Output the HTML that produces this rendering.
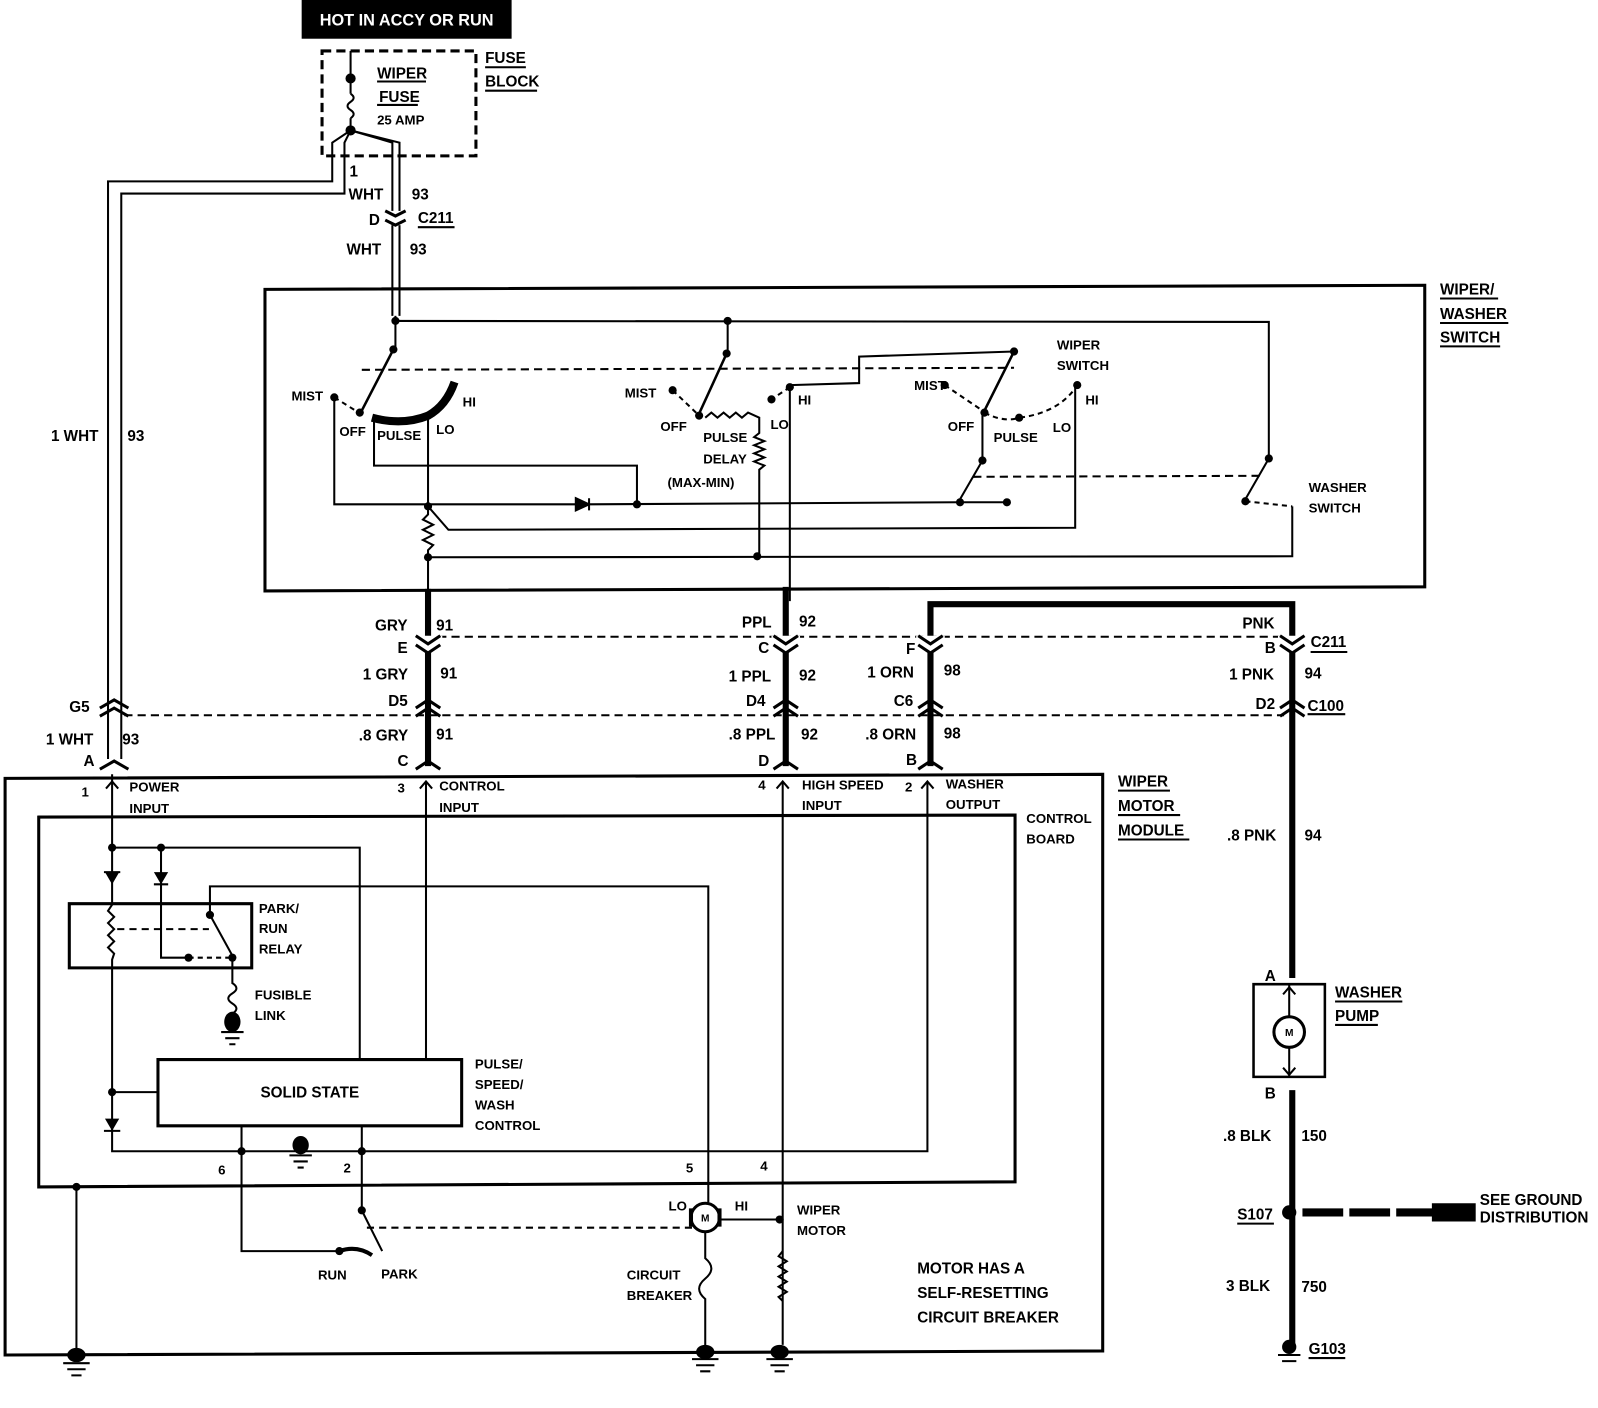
<!DOCTYPE html>
<html><head><meta charset="utf-8"><style>
html,body{margin:0;padding:0;background:#fff;}
svg{display:block;}
text{font-family:"Liberation Sans Narrow","Liberation Sans",sans-serif;font-weight:bold;font-size:15px;fill:#000;}
.s{font-size:13px;}
</style></head><body>
<svg width="1598" height="1408" viewBox="0 0 1568 1382" preserveAspectRatio="none" xmlns="http://www.w3.org/2000/svg" fill="none" stroke="#000" stroke-width="2">
<!-- Header -->
<rect x="296" y="0" width="206" height="38" fill="#000" stroke="none"/>
<text x="399" y="25" text-anchor="middle" style="fill:#fff;font-size:16px" stroke="none">HOT IN ACCY OR RUN</text>
<!-- fuse block -->
<rect x="316" y="50" width="151" height="103" stroke-width="3" stroke-dasharray="9,5"/>
<line x1="344" y1="50" x2="344" y2="92"/>
<path d="M344 92 q6 4 0 8 q-6 4 0 8 q6 4 0 8" />
<line x1="344" y1="116" x2="344" y2="128"/>
<circle cx="344" cy="77" r="4" fill="#000"/><circle cx="344" cy="128" r="4" fill="#000"/>
<g stroke="none">
<text x="370" y="77">WIPER</text><text x="372" y="100">FUSE</text><text x="370" y="122" class="s">25 AMP</text>
<text x="476" y="62">FUSE</text><text x="476" y="85">BLOCK</text>
</g>
<line x1="370" y1="80" x2="418" y2="80"/><line x1="370" y1="103" x2="410" y2="103"/>
<line x1="476" y1="66" x2="516" y2="66"/><line x1="476" y1="89" x2="527" y2="89"/>
<!-- fuse outputs -->
<path d="M344 128 L326 140 L326 178 L106 178 L106 745"/>
<path d="M344 128 L338 140 L338 190 L119 190 L119 745"/>
<path d="M344 128 L385 140 L385 310"/>
<path d="M344 128 L392 140 L392 310"/>
<g stroke="none">
<text x="343" y="173">1</text><text x="342" y="196">WHT</text><text x="404" y="196">93</text>
<text x="362" y="221">D</text><text x="410" y="219">C211</text>
<text x="340" y="250">WHT</text><text x="402" y="250">93</text>
<text x="50" y="433">1 WHT</text><text x="125" y="433">93</text>
</g>
<line x1="410" y1="223" x2="446" y2="223"/>
<rect x="376" y="207" width="24" height="14" fill="#fff" stroke="none"/>
<path d="M378 207 l10 5 l10 -5 M378 216 l10 5 l10 -5" stroke-width="3" />
<!-- switch box -->
<path d="M260 284 L1398 280 L1398 576 L260 580 Z" stroke-width="3"/>
<g stroke="none">
<text x="1413" y="289">WIPER/</text><text x="1413" y="313">WASHER</text><text x="1413" y="336">SWITCH</text>
</g>
<line x1="1413" y1="293" x2="1470" y2="293"/><line x1="1413" y1="317" x2="1480" y2="317"/><line x1="1413" y1="340" x2="1472" y2="340"/>
<!-- switch internals -->
<line x1="388" y1="310" x2="388" y2="343"/>
<path d="M388 315 L1245 316 L1245 450"/>
<line x1="714" y1="315" x2="714" y2="345"/>
<g fill="#000" stroke="none">
<circle cx="388" cy="315" r="4"/><circle cx="714" cy="315" r="4"/>
<circle cx="386" cy="343" r="4"/><circle cx="713" cy="347" r="4"/>
<circle cx="328" cy="390" r="4"/><circle cx="353" cy="405" r="4"/><circle cx="420" cy="408" r="4"/>
<circle cx="660" cy="383" r="4"/><circle cx="686" cy="408" r="4"/><circle cx="757" cy="392" r="4"/><circle cx="775" cy="380" r="4"/>
<circle cx="995" cy="345" r="4"/><circle cx="927" cy="378" r="4"/><circle cx="966" cy="405" r="4"/><circle cx="1000" cy="410" r="4"/><circle cx="1057" cy="378" r="4"/>
<circle cx="964" cy="452" r="4"/><circle cx="988" cy="493" r="4"/><circle cx="942" cy="493" r="4"/>
<circle cx="1245" cy="450" r="4"/><circle cx="1222" cy="492" r="4"/>
<circle cx="420" cy="497" r="4"/><circle cx="625" cy="495" r="4"/><circle cx="420" cy="547" r="4"/><circle cx="743" cy="546" r="4"/>
</g>
<path d="M386 343 L355 403" stroke-width="2.5"/><path d="M713 347 L686 406" stroke-width="2.5"/><path d="M995 345 L966 403" stroke-width="2.5"/>
<line x1="355" y1="363" x2="995" y2="361" stroke-dasharray="8,5"/>
<path d="M328 390 L352 405 M660 383 L684 406 M927 378 L964 403 M775 380 L757 392 M1222 492 L1268 497" stroke-dasharray="5,4"/>
<path d="M365 410 Q395 418 420 408 Q438 398 446 375" stroke-width="8"/>
<path d="M966 405 Q985 415 1000 410 Q1040 405 1057 378" stroke-dasharray="5,4"/>
<path d="M328 390 L328 495 L565 495"/>
<path d="M565 489 L578 495 L565 501 Z M578 489 L578 501" fill="#000"/>
<path d="M578 495 L940 493"/>
<path d="M367 410 L367 457 L625 457 L625 495"/>
<path d="M420 408 L420 505 l-5 5 l10 5 l-10 5 l10 5 l-10 5 l10 5 l-5 5 L420 590"/>
<path d="M420 497 L440 520 L1055 518 L1055 378"/>
<path d="M420 547 L1268 546 L1268 497"/>
<path d="M692 410 l6 -5 l6 5 l6 -5 l6 5 l6 -5 l6 5 l6 -5 L745 410 L745 425 l-5 4 l10 4 l-10 4 l10 4 l-10 4 l10 4 l-10 4 l10 4 l-5 4 L745 546"/>
<path d="M775 380 L775 590 M775 378 L843 376 L843 350 L995 345"/>
<path d="M964 405 L964 452 L942 490 M942 493 L988 493" />
<line x1="955" y1="468" x2="1240" y2="467" stroke-dasharray="8,5"/>
<path d="M1245 450 L1222 490"/>
<g stroke="none">
<text x="286" y="393" class="s">MIST</text><text x="454" y="399" class="s">HI</text><text x="333" y="428" class="s">OFF</text><text x="370" y="432" class="s">PULSE</text><text x="428" y="426" class="s">LO</text>
<text x="613" y="390" class="s">MIST</text><text x="648" y="423" class="s">OFF</text><text x="756" y="421" class="s">LO</text><text x="783" y="397" class="s">HI</text>
<text x="690" y="434" class="s">PULSE</text><text x="690" y="455" class="s">DELAY</text><text x="655" y="478" class="s">(MAX-MIN)</text>
<text x="897" y="383" class="s">MIST</text><text x="930" y="423" class="s">OFF</text><text x="975" y="434" class="s">PULSE</text><text x="1033" y="424" class="s">LO</text><text x="1065" y="397" class="s">HI</text>
<text x="1037" y="343" class="s">WIPER</text><text x="1037" y="363" class="s">SWITCH</text>
<text x="1284" y="483" class="s">WASHER</text><text x="1284" y="503" class="s">SWITCH</text>
</g>
<!-- harness wires -->
<path d="M420 578 L420 752" stroke-width="6"/>
<path d="M771 576 L771 752" stroke-width="6"/>
<path d="M913 752 L913 593 L1268 593 L1268 960" stroke-width="6"/>
<path d="M1268 1070 L1268 1325" stroke-width="6"/>
<line x1="430" y1="625" x2="1260" y2="625" stroke-dasharray="8,5"/>
<line x1="122" y1="702" x2="1260" y2="702" stroke-dasharray="8,5"/>
<!-- connectors -->
<g fill="#fff" stroke="none">
<rect x="406" y="624" width="28" height="16"/><rect x="757" y="624" width="28" height="16"/><rect x="899" y="624" width="28" height="16"/><rect x="1254" y="624" width="28" height="16"/>
</g>
<g stroke-width="3" fill="none">
<path d="M408 624 l12 8 l12 -8 M408 633 l12 8 l12 -8"/>
<path d="M759 624 l12 8 l12 -8 M759 633 l12 8 l12 -8"/>
<path d="M901 624 l12 8 l12 -8 M901 633 l12 8 l12 -8"/>
<path d="M1256 624 l12 8 l12 -8 M1256 633 l12 8 l12 -8"/>
<path d="M408 695 l12 -8 l12 8 M408 703 l12 -8 l12 8"/>
<path d="M759 695 l12 -8 l12 8 M759 703 l12 -8 l12 8"/>
<path d="M901 695 l12 -8 l12 8 M901 703 l12 -8 l12 8"/>
<path d="M1256 695 l12 -8 l12 8 M1256 703 l12 -8 l12 8"/>
<path d="M98 695 l14 -8 l14 8 M98 703 l14 -8 l14 8"/>
<path d="M98 755 l14 -8 l14 8 M408 755 l12 -8 l12 8 M759 755 l12 -8 l12 8 M901 755 l12 -8 l12 8"/>
</g>
<g stroke="none">
<text x="368" y="619">GRY</text><text x="428" y="619">91</text>
<text x="390" y="641">E</text><text x="356" y="667">1 GRY</text><text x="432" y="666">91</text>
<text x="381" y="693">D5</text><text x="352" y="727">.8 GRY</text><text x="428" y="726">91</text><text x="390" y="752">C</text>
<text x="728" y="616">PPL</text><text x="784" y="615">92</text>
<text x="744" y="641">C</text><text x="715" y="669">1 PPL</text><text x="784" y="668">92</text>
<text x="732" y="693">D4</text><text x="715" y="726">.8 PPL</text><text x="786" y="726">92</text><text x="744" y="752">D</text>
<text x="889" y="642">F</text><text x="851" y="665">1 ORN</text><text x="926" y="663">98</text>
<text x="877" y="693">C6</text><text x="849" y="726">.8 ORN</text><text x="926" y="725">98</text><text x="889" y="751">B</text>
<text x="1219" y="617">PNK</text><text x="1241" y="641">B</text><text x="1286" y="635">C211</text>
<text x="1206" y="667">1 PNK</text><text x="1280" y="666">94</text>
<text x="1232" y="696">D2</text><text x="1283" y="698">C100</text>
<text x="68" y="699">G5</text><text x="45" y="731">1 WHT</text><text x="120" y="731">93</text><text x="82" y="752">A</text>
<text x="1204" y="825">.8 PNK</text><text x="1280" y="825">94</text>
</g>
<line x1="1286" y1="640" x2="1322" y2="640"/><line x1="1283" y1="701" x2="1320" y2="701"/>
<!-- motor module -->
<path d="M5 764 L1082 760 L1082 1326 L5 1330 Z" stroke-width="3"/>
<path d="M38 802 L996 800 L996 1160 L38 1165 Z" stroke-width="3"/>
<g stroke="none">
<text x="1097" y="772">WIPER</text><text x="1097" y="796">MOTOR</text><text x="1097" y="820">MODULE</text>
<text x="1007" y="808" class="s">CONTROL</text><text x="1007" y="828" class="s">BOARD</text>
<text x="80" y="782" class="s">1</text><text x="127" y="777" class="s">POWER</text><text x="127" y="798" class="s">INPUT</text>
<text x="390" y="778" class="s">3</text><text x="431" y="776" class="s">CONTROL</text><text x="431" y="797" class="s">INPUT</text>
<text x="744" y="775" class="s">4</text><text x="787" y="775" class="s">HIGH SPEED</text><text x="787" y="795" class="s">INPUT</text>
<text x="888" y="777" class="s">2</text><text x="928" y="774" class="s">WASHER</text><text x="928" y="794" class="s">OUTPUT</text>
</g>
<line x1="1097" y1="776" x2="1148" y2="776"/><line x1="1097" y1="800" x2="1158" y2="800"/><line x1="1097" y1="824" x2="1167" y2="824"/>
<path d="M104 774 l6 -7 l6 7 M412 774 l6 -7 l6 7 M762 774 l6 -7 l6 7 M904 774 l6 -7 l6 7" />
<path d="M110 760 L110 888 l-4 6 l6 6 l-6 6 l6 6 l-6 6 l6 6 l-6 6 l6 6 l-2 6 L110 1130 L910 1130 L910 768"/>
<path d="M110 832 L353 832 L353 1040 M158 832 L158 940 L185 940"/>
<path d="M418 768 L418 1040 M768 768 L768 1320"/>
<g fill="#000" stroke="none">
<circle cx="110" cy="832" r="4"/><circle cx="158" cy="832" r="4"/>
<path d="M103 856 L117 856 L110 868 Z M158 868 L151 856 L165 856 Z M103 1098 L117 1098 L110 1110 Z"/>
<circle cx="206" cy="898" r="4"/><circle cx="185" cy="940" r="4"/><circle cx="228" cy="940" r="4"/>
<circle cx="110" cy="1072" r="4"/><circle cx="237" cy="1130" r="4"/><circle cx="355" cy="1130" r="4"/>
<circle cx="75" cy="1165" r="4"/><circle cx="355" cy="1188" r="4"/><circle cx="333" cy="1228" r="4"/>
<circle cx="765" cy="1197" r="4"/>
<ellipse cx="228" cy="1003" rx="8" ry="10"/><ellipse cx="295" cy="1124" rx="8" ry="9"/>
<ellipse cx="75" cy="1330" rx="9" ry="7"/><ellipse cx="692" cy="1327" rx="9" ry="7"/><ellipse cx="765" cy="1327" rx="9" ry="7"/><ellipse cx="1265" cy="1322" rx="7" ry="7"/>
<circle cx="1265" cy="1190" r="7"/>
</g>
<path d="M102 856 h16 M151 868 h14 M102 1110 h16" />
<path d="M68 887 L247 887 L247 950 L68 950 Z" stroke-width="3"/>
<line x1="115" y1="912" x2="205" y2="912" stroke-dasharray="7,5"/>
<path d="M206 898 L206 870 L695 870 L695 1180"/>
<path d="M206 898 L228 938"/>
<path d="M185 940 L228 940" stroke-dasharray="5,4"/>
<path d="M228 940 L228 965 q8 5 0 10 q-8 5 0 10 q8 5 0 10"/>
<path d="M217 1013 h22 M221 1019 h14 M225 1025 h6 M284 1134 h22 M288 1140 h14 M292 1146 h6"/>
<path d="M155 1040 L453 1040 L453 1105 L155 1105 Z" stroke-width="3"/>
<text x="304" y="1077" text-anchor="middle" stroke="none">SOLID STATE</text>
<path d="M110 1072 L155 1072 M237 1105 L237 1228 L330 1228 M355 1105 L355 1188 L375 1228"/>
<path d="M333 1228 Q350 1222 365 1232"  stroke-width="4"/>
<line x1="360" y1="1205" x2="680" y2="1205" stroke-dasharray="7,5"/>
<path d="M75 1165 L75 1325"/>
<circle cx="692" cy="1195" r="14" stroke-width="3"/>
<text x="692" y="1199" text-anchor="middle" style="font-size:10px" stroke="none">M</text>
<path d="M678 1186 v18 M706 1186 v18" stroke-width="4"/>
<path d="M706 1197 L768 1197 M692 1209 L692 1235 q12 10 0 20 q-12 10 0 20 L692 1322"/>
<path d="M768 1228 l-4 5 l8 5 l-8 5 l8 5 l-8 5 l8 5 l-8 5 l8 5 l-8 5 l4 4"/>
<path d="M62 1338 h26 M66 1344 h18 M70 1350 h10 M679 1334 h26 M683 1340 h18 M687 1346 h10 M752 1334 h26 M756 1340 h18 M760 1346 h10 M1254 1330 h22 M1258 1336 h14"/>
<g stroke="none">
<text x="254" y="896" class="s">PARK/</text><text x="254" y="916" class="s">RUN</text><text x="254" y="936" class="s">RELAY</text>
<text x="250" y="981" class="s">FUSIBLE</text><text x="250" y="1001" class="s">LINK</text>
<text x="466" y="1049" class="s">PULSE/</text><text x="466" y="1069" class="s">SPEED/</text><text x="466" y="1089" class="s">WASH</text><text x="466" y="1109" class="s">CONTROL</text>
<text x="214" y="1153" class="s">6</text><text x="337" y="1151" class="s">2</text><text x="673" y="1151" class="s">5</text><text x="746" y="1149" class="s">4</text>
<text x="312" y="1256" class="s">RUN</text><text x="374" y="1255" class="s">PARK</text>
<text x="656" y="1188" class="s">LO</text><text x="721" y="1188" class="s">HI</text>
<text x="782" y="1192" class="s">WIPER</text><text x="782" y="1212" class="s">MOTOR</text>
<text x="615" y="1256" class="s">CIRCUIT</text><text x="615" y="1276" class="s">BREAKER</text>
<text x="900" y="1250">MOTOR HAS A</text><text x="900" y="1274">SELF-RESETTING</text><text x="900" y="1298">CIRCUIT BREAKER</text>
</g>
<!-- washer pump -->
<path d="M1230 966 L1300 966 L1300 1057 L1230 1057 Z" stroke-width="2.5"/>
<line x1="1265" y1="966" x2="1265" y2="1057"/>
<circle cx="1265" cy="1013" r="15" fill="#fff" stroke-width="3"/>
<text x="1265" y="1017" text-anchor="middle" style="font-size:10px" stroke="none">M</text>
<path d="M1259 976 l6 -7 l6 7 M1259 1048 l6 7 l6 -7"/>
<g stroke="none">
<text x="1241" y="963">A</text><text x="1241" y="1078">B</text>
<text x="1310" y="979">WASHER</text><text x="1310" y="1002">PUMP</text>
<text x="1200" y="1120">.8 BLK</text><text x="1277" y="1120">150</text>
<text x="1214" y="1197">S107</text><text x="1203" y="1267">3 BLK</text><text x="1277" y="1268">750</text>
<text x="1284" y="1329">G103</text>
<text x="1452" y="1183">SEE GROUND</text><text x="1452" y="1200">DISTRIBUTION</text>
</g>
<line x1="1310" y1="983" x2="1376" y2="983"/><line x1="1310" y1="1006" x2="1352" y2="1006"/>
<line x1="1214" y1="1201" x2="1250" y2="1201"/><line x1="1284" y1="1333" x2="1320" y2="1333"/>
<line x1="1278" y1="1190" x2="1420" y2="1190" stroke-width="8" stroke-dasharray="40,6"/>
<path d="M1405 1181 L1448 1181 L1448 1199 L1405 1199 Z" fill="#000" stroke="none"/>
</svg>
</body></html>
